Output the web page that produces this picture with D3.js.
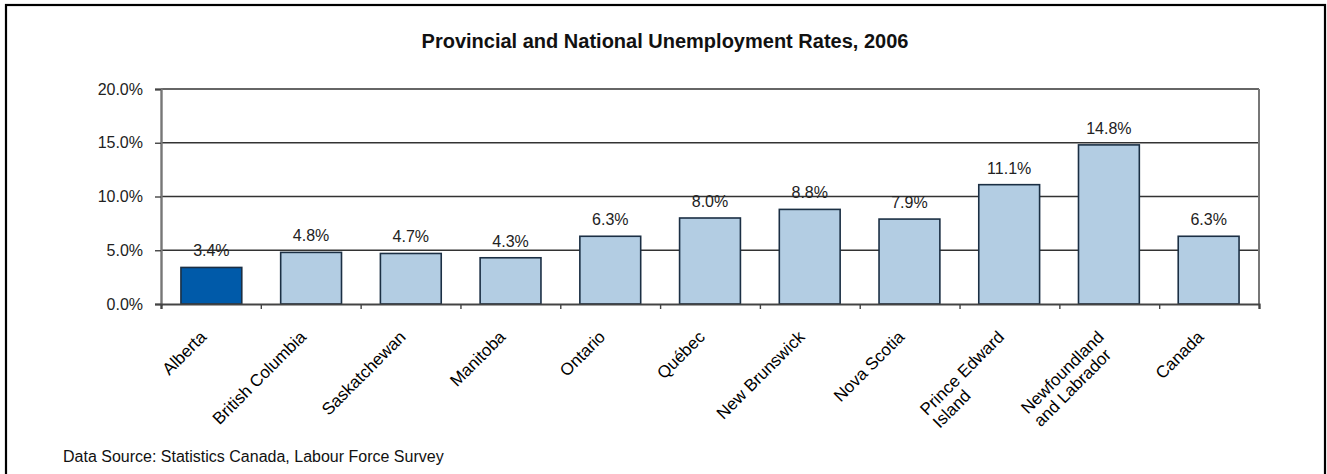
<!DOCTYPE html>
<html>
<head>
<meta charset="utf-8">
<script src="https://cdn.jsdelivr.net/npm/d3@7"></script>
<style>
  html, body { margin: 0; padding: 0; background: #fff; }
  svg { display: block; font-family: "Liberation Sans", Arial, sans-serif; }
</style>
</head>
<body>
<svg id="chart" width="1327" height="474"></svg>
<script>
const categories = ["Alberta", "British Columbia", "Saskatchewan", "Manitoba", "Ontario", "Québec",
    "New Brunswick", "Nova Scotia", "Prince Edward\nIsland", "Newfoundland\nand Labrador", "Canada"];
const rates = [3.4, 4.8, 4.7, 4.3, 6.3, 8.0, 8.8, 7.9, 11.1, 14.8, 6.3];
const highlighted = ["Alberta"];
const yTicks = [0, 5, 10, 15, 20];
const title = "Provincial and National Unemployment Rates, 2006";
const source = "Data Source: Statistics Canada, Labour Force Survey";

const width = 1327;
const height = 474;
const margin = { top: 89, right: 68, bottom: 170, left: 161 };

const svg = d3.select("#chart");

// outer frame
svg.append("rect")
    .attr("x", 6).attr("y", 5)
    .attr("width", 1319).attr("height", 480)
    .attr("fill", "none")
    .attr("stroke", "#000")
    .attr("stroke-width", 2.2);

svg.append("text")
    .attr("x", 665).attr("y", 48)
    .attr("text-anchor", "middle")
    .attr("font-size", 20)
    .attr("font-weight", "bold")
    .attr("fill", "#111")
    .text(title);

let x = d3.scaleBand()
    .domain(categories)
    .range([margin.left, width - margin.right])
    .paddingInner(0.39)
    .paddingOuter(0.2);

let y = d3.scaleLinear()
    .domain([0, 20])
    .range([height - margin.bottom, margin.top]);

// boundaries between categories, for the bottom ticks
let xb = d3.scaleLinear()
    .domain([0, categories.length])
    .range([margin.left, width - margin.right]);

// gridlines
svg.append("g")
    .selectAll("line")
    .data(yTicks.filter(d => d > 0))
    .join("line")
    .attr("x1", margin.left)
    .attr("x2", width - margin.right)
    .attr("y1", d => y(d))
    .attr("y2", d => y(d))
    .attr("stroke", d => d === 20 ? "#666" : "#333")
    .attr("stroke-width", d => d === 20 ? 1.8 : 1.5);

// right border of plot area
svg.append("line")
    .attr("x1", width - margin.right).attr("x2", width - margin.right)
    .attr("y1", y(20)).attr("y2", y(0))
    .attr("stroke", "#777")
    .attr("stroke-width", 2);

const bar = svg.append("g")
    .selectAll("rect")
    .data(categories)
    .join("rect")
    .attr("x", d => x(d))
    .attr("y", (d, i) => y(rates[i]))
    .attr("width", x.bandwidth())
    .attr("height", (d, i) => y(0) - y(rates[i]))
    .attr("fill", d => highlighted.includes(d) ? "#005aa9" : "#b3cde3")
    .attr("stroke", "#1b2f44")
    .attr("stroke-width", 1.6);

svg.append("g")
    .selectAll("text")
    .data(categories)
    .join("text")
    .attr("x", d => x(d) + x.bandwidth() / 2)
    .attr("y", (d, i) => y(rates[i]) - 11)
    .attr("text-anchor", "middle")
    .attr("font-size", 16)
    .attr("fill", "#222")
    .text((d, i) => rates[i].toFixed(1) + "%");

let yAxis = g => g
    .attr("transform", `translate(${margin.left},0)`)
    .call(d3.axisLeft(y).tickValues(yTicks).tickSize(6).tickPadding(12)
        .tickFormat(d => d.toFixed(1) + "%"))
    .call(g => g.select(".domain").attr("stroke", "#777").attr("stroke-width", 2.4))
    .call(g => g.selectAll(".tick line").attr("stroke", "#444").attr("stroke-width", 1.4))
    .call(g => g.selectAll(".tick text")
        .attr("font-size", 16).attr("fill", "#222")
        .attr("font-family", "Liberation Sans, Arial, sans-serif"));

let xAxis = g => g
    .attr("transform", `translate(0,${height - margin.bottom})`)
    .call(d3.axisBottom(xb).ticks(categories.length).tickSize(5).tickFormat("").tickSizeOuter(5))
    .call(g => g.select(".domain").attr("stroke", "#444").attr("stroke-width", 2.2))
    .call(g => g.selectAll(".tick line").attr("stroke", "#444").attr("stroke-width", 1.4));

svg.append("g").call(yAxis);
svg.append("g").call(xAxis);

// rotated category labels: lines left-aligned, longest line ends at the anchor
const labels = svg.append("g")
    .selectAll("g")
    .data(categories)
    .join("g")
    .attr("transform", d => `translate(${x(d) + x.bandwidth() / 2 - 4},${y(0) + 34}) rotate(-45)`);

labels.each(function (d) {
    const lines = d.split("\n");
    const t = d3.select(this).append("text")
        .attr("font-size", 17)
        .attr("fill", "#000")
        .attr("text-anchor", "start");
    const spans = lines.map((line, i) => t.append("tspan")
        .attr("x", 0)
        .attr("dy", i === 0 ? 0 : 18)
        .text(line));
    const maxW = d3.max(spans, s => s.node().getComputedTextLength());
    spans.forEach(s => s.attr("x", -maxW));
});

svg.append("text")
    .attr("x", 63).attr("y", 462)
    .attr("font-size", 16)
    .attr("fill", "#111")
    .text(source);
</script>
</body>
</html>
